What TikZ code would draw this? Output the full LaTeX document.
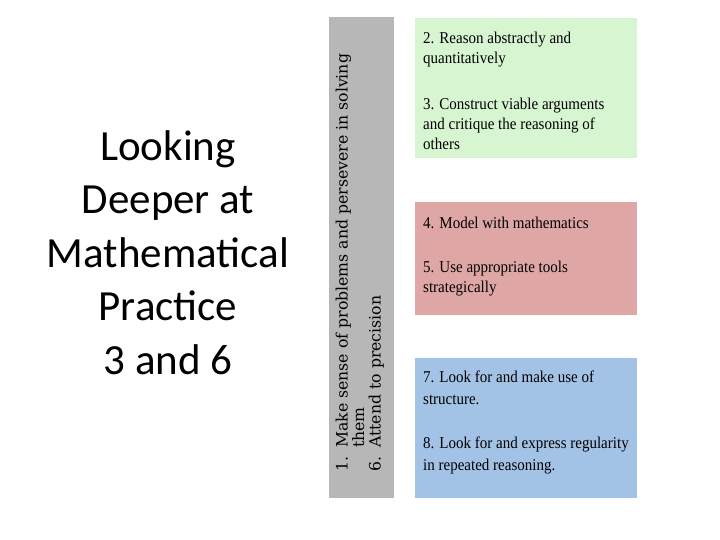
\documentclass[tikz,border=0pt]{standalone}
\usepackage{fontspec}
\setmainfont{Liberation Serif}
\newfontfamily\naslovfont{Carlito}
\newfontfamily\trakafont{DejaVu Serif}
\usetikzlibrary{positioning}
\definecolor{sivatraka}{RGB}{183,183,183}
\definecolor{zelenopolje}{RGB}{214,245,208}
\definecolor{crvenopolje}{RGB}{222,167,165}
\definecolor{plavopolje}{RGB}{163,195,230}
\tikzset{
  polje/.style={anchor=north west,inner sep=0pt,minimum width=222pt},
  stavka/.style={anchor=north west,inner sep=0pt,align=left,xscale=0.91,transform shape,
                 font=\fontsize{16.5}{20}\selectfont},
}

\begin{document}
\begin{tikzpicture}[x=1pt,y=-1pt]
  \useasboundingbox[fill=white] (0,0) rectangle (720,540);

  % ---------- NASLOV ----------
  \node[anchor=north,align=center,inner sep=0pt,
        font=\naslovfont\fontsize{43}{53.5}\selectfont] (naslov) at (168,130)
       {Looking\\Deeper at\\Mathematical\\Practice\\3 and 6};

  % ---------- SIVA TRAKA (1. i 6.) ----------
  \node[polje,fill=sivatraka,minimum width=65pt,minimum height=481pt] (traka) at (329,17) {};
  \node[anchor=north west,inner sep=0pt,rotate=90,align=left,
        font=\trakafont\fontsize{15.7}{16.5}\selectfont] (brojevi) at (335.5,472)
       {\makebox[24pt][l]{1.}Make sense of problems and persevere in solving\\
        \hspace*{24pt}them\\
        \makebox[24pt][l]{6.}Attend to precision};

  % ---------- POLJA ----------
  \node[polje,fill=zelenopolje,minimum height=140pt] (zelena) at (415,18) {};
  \node[polje,fill=crvenopolje,minimum height=113pt] (crvena) at (415,202) {};
  \node[polje,fill=plavopolje,minimum height=140pt] (plava) at (415,358) {};

  \node[stavka] (tekstz) at ([xshift=8pt,yshift=-13.7pt]zelena.north west)
       {2. Reason abstractly and\\quantitatively\\[26pt]
        3. Construct viable arguments\\and critique the reasoning of\\others};
  \node[stavka] (tekstc) at ([xshift=8pt,yshift=-14.7pt]crvena.north west)
       {4. Model with mathematics\\[24pt]
        5. Use appropriate tools\\strategically};
  \node[stavka,font=\fontsize{16.5}{22}\selectfont] (tekstp)
       at ([xshift=8pt,yshift=-12.7pt]plava.north west)
       {7. Look for and make use of\\structure.\\[22pt]
        8. Look for and express regularity\\in repeated reasoning.};

\end{tikzpicture}
\end{document}
